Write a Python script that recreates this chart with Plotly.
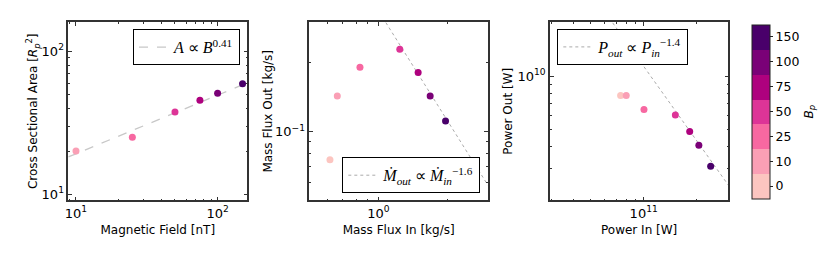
import math
import plotly.graph_objects as go

# ---------------- data ----------------
B_labels = ["0", "10", "25", "50", "75", "100", "150"]
B_values = [0, 10, 25, 50, 75, 100, 150]
B_colors = ["#fcc5c0", "#fa9fb5", "#f768a1", "#dd3497", "#ae017e", "#7a0177", "#49006a"]

# panel 1 (B=0 cannot be shown on a log axis)
field_nT = [10, 25, 50, 75, 100, 150]
area_Rp2 = [20.1, 25.1, 37.7, 45.4, 50.8, 59.4]
area_fit_coef = 19.2      # A at B = 10 nT
area_fit_exp = 0.41

# panel 2
mass_in = [0.615, 0.662, 0.831, 1.239, 1.489, 1.68, 1.96]
mass_out = [0.0752, 0.143, 0.191, 0.229, 0.181, 0.143, 0.111]
mass_fit_coef = 0.337     # Mout at Min = 1 kg/s
mass_fit_exp = -1.6

# panel 3
power_in = [7.41e10, 7.97e10, 1.004e11, 1.51e11, 1.82e11, 2.05e11, 2.39e11]
power_out = [7.78e9, 7.78e9, 6.49e9, 6.03e9, 4.87e9, 4.07e9, 3.10e9]
power_fit_coef = 1.135e10  # Pout at Pin = 1e11 W
power_fit_exp = -1.4

# ---------------- styling helpers ----------------
W, H = 830, 257
FONT = "DejaVu Sans"
MATH = "Liberation Serif"

nb = len(B_labels)
colorscale = []
for i, c in enumerate(B_colors):
    colorscale.append([i / nb, c])
    colorscale.append([(i + 1) / nb, c])
cidx_all = [i + 0.5 for i in range(nb)]
cidx_p1 = cidx_all[1:]

def px_x(p):
    return p / W

def dom_y(top, bottom):
    return [(H - bottom) / H, (H - top) / H]

def minor_vals(lo, hi):
    vals = []
    for e in range(int(math.floor(lo)) - 1, int(math.ceil(hi)) + 1):
        for k in range(2, 10):
            v = k * 10 ** e
            if lo <= math.log10(v) <= hi:
                vals.append(v)
    return vals

def logspace(lo, hi, n=60):
    return [10 ** (lo + (hi - lo) * i / (n - 1)) for i in range(n)]

def axis(domain, rng, tickvals, ticktext, title, standoff):
    return dict(
        type="log", domain=domain, range=rng,
        showgrid=False, zeroline=False,
        showline=True, linecolor="#333", linewidth=1.5, mirror="allticks",
        ticks="inside", ticklen=4, tickwidth=1, tickcolor="#333",
        tickmode="array", tickvals=tickvals, ticktext=ticktext,
        tickfont=dict(family=FONT, size=13, color="black"),
        minor=dict(tickmode="array", tickvals=minor_vals(*rng), ticks="inside",
                   ticklen=2, tickwidth=1, tickcolor="#333"),
        title=dict(text=title, font=dict(family=FONT, size=12, color="black"),
                   standoff=standoff),
        automargin=False,
    )

ydom = dom_y(22.3, 200.3)

fig = go.Figure()

# ---- panel 1 ----
r1x = [0.9457, 2.2096]
r1y = [0.958, 2.2028]
fx1 = logspace(*r1x)
fig.add_trace(go.Scatter(
    x=fx1, y=[area_fit_coef * (b / 10) ** area_fit_exp for b in fx1],
    mode="lines", line=dict(color="#c8c8c8", width=1.3, dash="dash"),
    name="<i>A</i> ∝ <i>B</i><sup>0.41</sup>", legend="legend",
    xaxis="x", yaxis="y", hoverinfo="skip"))
fig.add_trace(go.Scatter(
    x=field_nT, y=area_Rp2, mode="markers", showlegend=False,
    marker=dict(size=7, color=cidx_p1, colorscale=colorscale, cmin=0, cmax=nb,
                line=dict(width=0)),
    xaxis="x", yaxis="y"))

# ---- panel 2 ----
r2x = [math.log10(0.5), math.log10(3.0)]
r2y = [math.log10(0.05), math.log10(0.3)]
fx2 = logspace(*r2x)
fig.add_trace(go.Scatter(
    x=fx2, y=[mass_fit_coef * m ** mass_fit_exp for m in fx2],
    mode="lines", line=dict(color="#aaaaaa", width=1, dash="dot"),
    name="<i>Ṁ</i><sub><i>out</i></sub> ∝ <i>Ṁ</i><sub><i>in</i></sub><sup>−1.6</sup>",
    legend="legend2", xaxis="x2", yaxis="y2", hoverinfo="skip"))
fig.add_trace(go.Scatter(
    x=mass_in, y=mass_out, mode="markers", showlegend=False,
    marker=dict(size=7, color=cidx_all, colorscale=colorscale, cmin=0, cmax=nb,
                line=dict(width=0), showscale=True,
                colorbar=dict(
                    x=752.3 / W, xanchor="left", xpad=0, ypad=0,
                    y=(H - 111.5) / H, yanchor="middle",
                    len=174.4 / H, lenmode="fraction",
                    thickness=18, thicknessmode="pixels",
                    outlinewidth=1, outlinecolor="#222",
                    tickmode="array", tickvals=cidx_all, ticktext=B_labels,
                    ticks="outside", ticklen=3, tickcolor="#222",
                    tickfont=dict(family=FONT, size=12.5, color="black"),
                )),
    xaxis="x2", yaxis="y2"))

# ---- panel 3 ----
r3x = [10.471, 11.478]
r3y = [9.30, 10.303]
fx3 = logspace(*r3x)
fig.add_trace(go.Scatter(
    x=fx3, y=[power_fit_coef * (p / 1e11) ** power_fit_exp for p in fx3],
    mode="lines", line=dict(color="#aaaaaa", width=1, dash="dot"),
    name="<i>P</i><sub><i>out</i></sub> ∝ <i>P</i><sub><i>in</i></sub><sup>−1.4</sup>",
    legend="legend3", xaxis="x3", yaxis="y3", hoverinfo="skip"))
fig.add_trace(go.Scatter(
    x=power_in, y=power_out, mode="markers", showlegend=False,
    marker=dict(size=7, color=cidx_all, colorscale=colorscale, cmin=0, cmax=nb,
                line=dict(width=0)),
    xaxis="x3", yaxis="y3"))

xa1 = axis([px_x(68.3), px_x(247.3)], r1x, [10, 100], ["10<sup>1</sup>", "10<sup>2</sup>"],
           "Magnetic Field [nT]", 6)
xa1["anchor"] = "y"
ya1 = axis(ydom, r1y, [10, 100], ["10<sup>1</sup>", "10<sup>2</sup>"],
           "Cross Sectional Area [<i>R<sub>p</sub></i><sup>2</sup>]", 0)
ya1["anchor"] = "x"
xa2 = axis([px_x(309.3), px_x(488)], r2x, [1], ["10<sup>0</sup>"], "Mass Flux In [kg/s]", 6)
xa2["anchor"] = "y2"
ya2 = axis(ydom, r2y, [0.1], ["10<sup>−1</sup>"], "Mass Flux Out [kg/s]", 0)
ya2["anchor"] = "x2"
xa3 = axis([px_x(550), px_x(728.3)], r3x, [1e11], ["10<sup>11</sup>"], "Power In [W]", 6)
xa3["anchor"] = "y3"
ya3 = axis(ydom, r3y, [1e10], ["10<sup>10</sup>"], "Power Out [W]", 2)
ya3["anchor"] = "x3"

def legend(x, xanchor, y, yanchor):
    return dict(x=x, xanchor=xanchor, y=y, yanchor=yanchor, xref="paper", yref="paper",
                bgcolor="white", bordercolor="black", borderwidth=1,
                font=dict(family=MATH, size=16, color="black"),
                itemwidth=30, tracegroupgap=0)

fig.update_layout(
    width=W, height=H,
    margin=dict(l=0, r=0, t=0, b=0),
    paper_bgcolor="white", plot_bgcolor="white",
    xaxis=xa1, yaxis=ya1, xaxis2=xa2, yaxis2=ya2, xaxis3=xa3, yaxis3=ya3,
    legend=legend(240 / W, "right", (H - 29.3) / H, "top"),
    legend2=legend(480.3 / W, "right", (H - 193.3) / H, "bottom"),
    legend3=legend(557.3 / W, "left", (H - 29) / H, "top"),
    annotations=[dict(
        text="<i>B</i><sub><i>p</i></sub>", x=809 / W, y=(H - 111.5) / H,
        xref="paper", yref="paper", showarrow=False, textangle=-90,
        xanchor="center", yanchor="middle",
        font=dict(family=FONT, size=12, color="black"))],
    showlegend=True,
)

fig.write_html("out.html", config={"displayModeBar": False},
               post_script="document.body.style.margin='0';")
